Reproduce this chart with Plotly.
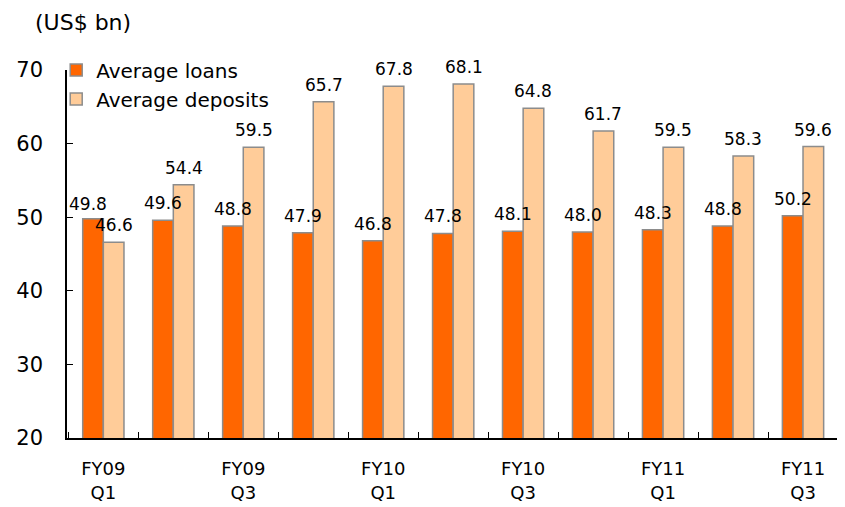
import plotly.graph_objects as go

quarters = ["FY09 Q1", "FY09 Q2", "FY09 Q3", "FY09 Q4", "FY10 Q1", "FY10 Q2",
            "FY10 Q3", "FY10 Q4", "FY11 Q1", "FY11 Q2", "FY11 Q3"]
tick_text = ["FY09<br>Q1", "", "FY09<br>Q3", "", "FY10<br>Q1", "",
             "FY10<br>Q3", "", "FY11<br>Q1", "", "FY11<br>Q3"]
avg_loans = [49.8, 49.6, 48.8, 47.9, 46.8, 47.8, 48.1, 48.0, 48.3, 48.8, 50.2]
avg_deposits = [46.6, 54.4, 59.5, 65.7, 67.8, 68.1, 64.8, 61.7, 59.5, 58.3, 59.6]

font_family = "DejaVu Sans"

# page body has an 8px margin; compensate so the plot area lands where it should
W, H = 837, 499
plot_w = 771
bargap = 0.41
cat_w = plot_w / len(quarters)
half_bar = cat_w * (1 - bargap) / 4  # offset of each bar centre from category centre

fig = go.Figure()
fig.add_trace(go.Bar(
    x=quarters, y=avg_loans, name="Average loans",
    marker=dict(color="#FF6600", line=dict(color="#8C8C8C", width=1.5)),
    cliponaxis=False,
))
fig.add_trace(go.Bar(
    x=quarters, y=avg_deposits, name="Average deposits",
    marker=dict(color="#FFCC99", line=dict(color="#8C8C8C", width=1.5)),
    cliponaxis=False,
))

annotations = [dict(text="(US$ bn)", xref="paper", yref="paper",
                    x=(33 - 67) / plot_w, y=1 + (70 - 22) / 368,
                    xanchor="left", yanchor="middle",
                    showarrow=False, font=dict(size=22))]
for i, (q, v) in enumerate(zip(quarters, avg_loans)):
    annotations.append(dict(x=q, y=v, text=f"{v:.1f}", showarrow=False,
                            xanchor="center", yanchor="bottom",
                            xshift=-half_bar - (5 if i == 0 else 0),
                            yshift=3 if i == 0 else 5,
                            font=dict(size=17, color="black")))
for q, v in zip(quarters, avg_deposits):
    annotations.append(dict(x=q, y=v, text=f"{v:.1f}", showarrow=False,
                            xanchor="center", yanchor="bottom",
                            xshift=half_bar, yshift=5,
                            font=dict(size=17, color="black")))

fig.update_layout(
    width=W, height=H,
    margin=dict(l=59, r=7, t=62, b=69, autoexpand=False),
    paper_bgcolor="white", plot_bgcolor="white",
    barmode="group", bargap=bargap, bargroupgap=0,
    font=dict(family=font_family, size=18, color="black"),
    showlegend=True,
    legend=dict(x=-0.014, y=1.053, xanchor="left", yanchor="top",
                bgcolor="rgba(0,0,0,0)", font=dict(size=20), traceorder="normal"),
    annotations=annotations,
)

fig.update_xaxes(
    type="category", tickvals=quarters, ticktext=tick_text,
    tickson="boundaries", ticks="inside", ticklen=6, tickcolor="black",
    showline=True, linecolor="black", linewidth=1.5, mirror=False,
    showgrid=False, tickfont=dict(size=18), ticklabelstandoff=14,
    automargin=False,
)
fig.update_yaxes(
    range=[20, 70], tickvals=[20, 30, 40, 50, 60, 70],
    ticks="inside", ticklen=6, tickcolor="black",
    showline=True, linecolor="black", linewidth=1.5,
    showgrid=False, zeroline=False, tickfont=dict(size=21), ticklabelstandoff=18,
    automargin=False,
)

fig.write_html("out.html")
